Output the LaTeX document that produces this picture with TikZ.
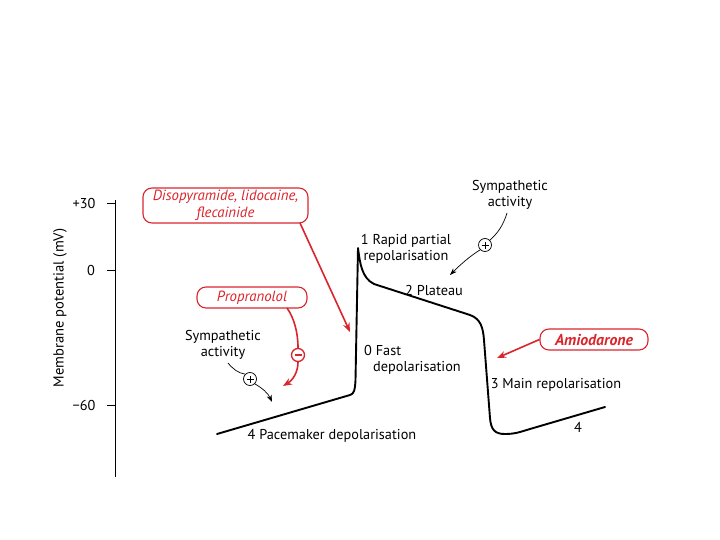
\documentclass[tikz,border=0pt]{standalone}
\usepackage{fontspec}
\setmainfont{PT Sans}
\usetikzlibrary{arrows.meta}
\definecolor{drugred}{RGB}{218,37,45}
\tikzset{
  lbl/.style={font=\fontsize{14.3}{16.5}\selectfont, inner sep=0pt, align=center},
  drug/.style={draw=drugred, line width=1.1pt, rounded corners=9pt, text=drugred,
     font=\fontsize{14.8}{17}\selectfont\itshape, align=center, inner sep=0pt},
  redarrow/.style={draw=drugred, line width=1.6pt, -{Stealth[length=9pt,width=7pt]}},
  redline/.style={draw=drugred, line width=1.6pt},
  blkarrow/.style={draw=black, line width=0.7pt, -{Stealth[length=7pt,width=5pt]}},
  blkline/.style={draw=black, line width=0.7pt},
  signcirc/.style={circle, minimum size=13pt, inner sep=0pt},
  trace/.style={line width=1.9pt, line join=round, line cap=round},
}
\begin{document}
\begin{tikzpicture}[x=1pt,y=-1pt]
\useasboundingbox[fill=white] (0,0) rectangle (720,540);
% axis
\draw[line width=0.9pt] (115,200) -- (115,477);
\draw[line width=0.9pt] (107,203) -- (115,203);
\draw[line width=0.9pt] (107,270) -- (115,270);
\draw[line width=0.9pt] (107,405) -- (115,405);
\node[lbl] (t30) at (84,203) {+30};
\node[lbl] (t0) at (91,270) {0};
\node[lbl] (t60) at (84,405) {\textminus60};
\node[lbl, rotate=90, font=\fontsize{14.6}{16}\selectfont] (ytitle) at (60,308) {Membrane potential (mV)};
% action potential trace
\draw[trace] (217,434) -- (350,395)
  .. controls (354,394) and (355,390) .. (355.5,380)
  -- (358,248)
  .. controls (360,264) and (362,278) .. (374,284)
  -- (470,315)
  .. controls (481,319) and (483,328) .. (484,340)
  -- (490,418)
  .. controls (491,430) and (495,434) .. (505,434)
  .. controls (515,434) and (520,432) .. (530,429)
  -- (605,407);
% phase labels
\node[lbl] (p1) at (406,249) {1 Rapid partial\\repolarisation};
\node[lbl] (p2) at (434,290) {2 Plateau};
\node[lbl, anchor=west] (p0a) at (364,350) {0 Fast};
\node[lbl, anchor=west] (p0b) at (373,368) {depolarisation};
\node[lbl] (p3) at (556,385) {3 Main repolarisation};
\node[lbl] (p4) at (578,427) {4};
\node[lbl] (p4b) at (332,436) {4 Pacemaker depolarisation};
% drug boxes
\node[drug, minimum width=165pt, minimum height=35pt] (diso) at (225.5,205.5) {Disopyramide, lidocaine,\\flecainide};
\node[drug, minimum width=110pt, minimum height=21pt] (prop) at (252,297.5) {Propranolol};
\node[drug, minimum width=108pt, minimum height=21pt, font=\fontsize{15.8}{17}\selectfont\bfseries\itshape] (amio) at (594,339.5) {Amiodarone};
% red arrows
\coordinate (disoend) at (350,332);
\draw[redarrow] (300,223) -- (disoend);
\coordinate (amioend) at (497,358);
\draw[redarrow] (amio.west) -- (amioend);
\node[signcirc, draw=drugred, line width=1.3pt] (minus) at (298,355) {};
\draw[drugred, line width=1.3pt] ([xshift=-3.5pt]minus.center) -- ([xshift=3.5pt]minus.center);
\draw[redline] (287,308) .. controls (294,318) and (298,332) .. (minus.north);
\coordinate (propend) at (283,386);
\draw[redarrow] (minus.south) .. controls (298,372) and (293,380) .. (propend);
% sympathetic activity (left)
\node[lbl] (symL) at (223,345) {Sympathetic\\activity};
\node[signcirc, draw, line width=0.7pt] (plusL) at (250,379) {};
\draw[line width=0.7pt] ([xshift=-3.5pt]plusL.center) -- ([xshift=3.5pt]plusL.center)
  ([yshift=-3.5pt]plusL.center) -- ([yshift=3.5pt]plusL.center);
\draw[blkline] (228,363) .. controls (233,369) and (238,373) .. (plusL.north west);
\coordinate (symLend) at (272,402);
\draw[blkarrow] (plusL.south east) .. controls (262,388) and (268,393) .. (symLend);
% sympathetic activity (top)
\node[lbl] (symT) at (510,195) {Sympathetic\\activity};
\node[signcirc, draw, line width=0.7pt] (plusT) at (485,245) {};
\draw[line width=0.7pt] ([xshift=-3.5pt]plusT.center) -- ([xshift=3.5pt]plusT.center)
  ([yshift=-3.5pt]plusT.center) -- ([yshift=3.5pt]plusT.center);
\draw[blkline] (507,213) .. controls (503,226) and (497,234) .. (plusT.north east);
\coordinate (symTend) at (450,275);
\draw[blkarrow] (plusT.south west) .. controls (470,256) and (460,265) .. (symTend);
\end{tikzpicture}
\end{document}
